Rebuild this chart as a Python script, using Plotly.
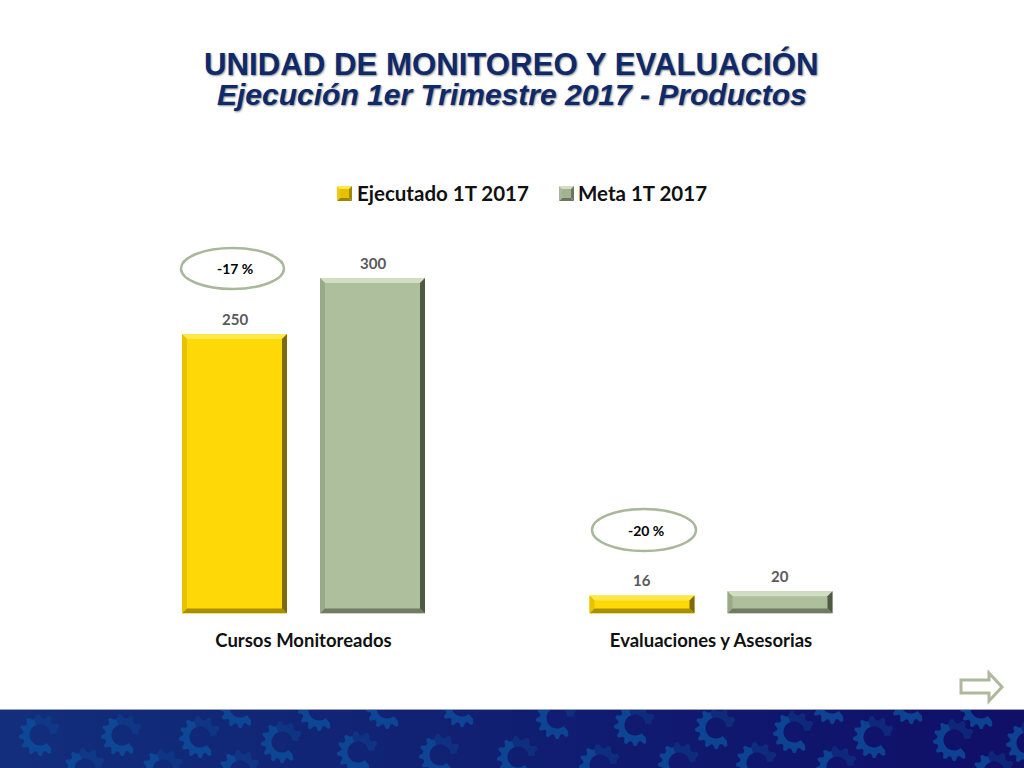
#!/usr/bin/env python

import math

import plotly.graph_objects as go

# Datos del grafico
categorias = ["Cursos Monitoreados", "Evaluaciones y Asesorias"]
ejecutado = [250, 16]
meta = [300, 20]
variacion = ["-17 %", "-20 %"]
nombres = ["Ejecutado 1T 2017", "Meta 1T 2017"]

W, H = 1024, 768
BARGAP = 0.3227
GROUPGAP = 0.239
Y_MAX = 350
POS = list(range(len(categorias)))

# Centros de los engranajes del pie de pagina (px)
gears = [(40, 735), (122, 735), (200, 737), (282, 742), (240, 707), (85, 769),
         (163, 770), (240, 771), (319, 710), (358, 752), (387, 708), (440, 755),
         (462, 706), (518, 757), (557, 718), (600, 765), (635, 725), (716, 728),
         (794, 732), (874, 737), (954, 740), (1027, 743), (679, 763), (757, 763),
         (837, 767), (832, 703), (911, 703), (981, 708), (994, 772)]


def px(x):
    return x / W


def py(y):
    return 1 - y / H


def poly(coords):
    return "M" + "L".join("%.5f,%.5f" % c for c in coords) + "Z"


def gear_path(cx, cy, start, end, ro=21, ri=10.5):
    # piece of a toothed ring, angles in degrees, clockwise on screen
    start, end = math.radians(start), math.radians(end)
    n = max(4, int(round((end - start) / (2 * math.pi) * 48 / 4)) * 4)
    pts = []
    for k in range(n + 1):
        a = start + (end - start) * k / n
        r = ro if k % 4 in (1, 2) else ro - 4
        pts.append((cx + r * math.cos(a), cy + r * math.sin(a)))
    for k in range(n + 1):
        a = end - (end - start) * k / n
        pts.append((cx + ri * math.cos(a), cy + ri * math.sin(a)))
    # keep it inside the band
    return poly([(px(x), py(max(y, 710))) for x, y in pts])


def bevel(x0, x1, val, colors):
    # four slanted edges on top of a bar, in data units
    dx = 5 / (815 / 2)
    dy = min(5 / (391.3 / Y_MAX), val / 3)
    top, left, right, bottom = colors
    edges = [
        ([(x0, val), (x1, val), (x1 - dx, val - dy), (x0 + dx, val - dy)], top),
        ([(x0, 0), (x0, val), (x0 + dx, val - dy), (x0 + dx, dy)], left),
        ([(x1, 0), (x1, val), (x1 - dx, val - dy), (x1 - dx, dy)], right),
        ([(x0, 0), (x1, 0), (x1 - dx, dy), (x0 + dx, dy)], bottom),
    ]
    return [dict(type="path", xref="x", yref="y", path=poly(c), fillcolor=col,
                 line_width=0, layer="above") for c, col in edges]


def swatch(x0, y0, size, centre, colors):
    # little bevelled legend square, in pixels
    top, left, right, bottom = colors
    x1, y1 = x0 + size, y0 + size
    cx, cy = x0 + size / 2, y0 + size / 2
    tris = [
        ([(x0, y0), (x1, y0), (cx, cy)], top),
        ([(x0, y0), (x0, y1), (cx, cy)], left),
        ([(x1, y0), (x1, y1), (cx, cy)], right),
        ([(x0, y1), (x1, y1), (cx, cy)], bottom),
    ]
    out = [dict(type="path", xref="paper", yref="paper", line_width=0,
                fillcolor=col, path=poly([(px(a), py(b)) for a, b in c]))
           for c, col in tris]
    out.append(dict(type="rect", xref="paper", yref="paper", line_width=0,
                    x0=px(x0 + 3), x1=px(x1 - 3), y0=py(y0 + 3), y1=py(y1 - 3),
                    fillcolor=centre))
    return out


fig = go.Figure()

fig.add_trace(go.Bar(x=POS, y=ejecutado, name=nombres[0],
                     marker=dict(color="#ffd808", line_width=0)))
fig.add_trace(go.Bar(x=POS, y=meta, name=nombres[1],
                     marker=dict(color="#adbf9c", line_width=0)))

shapes = []
annotations = []

# Bisel de las barras y etiquetas de valor
slot = (1 - BARGAP) / 2
ancho = slot * (1 - GROUPGAP)
yellow_edges = ("#ffe94a", "#e6c200", "#7d6a0c", "#a88f00")
green_edges = ("#d2dec4", "#98aa88", "#4f5a45", "#6f7c63")
for i in POS:
    c0, c1 = i - slot / 2, i + slot / 2
    shapes += bevel(c0 - ancho / 2, c0 + ancho / 2, ejecutado[i], yellow_edges)
    shapes += bevel(c1 - ancho / 2, c1 + ancho / 2, meta[i], green_edges)
    for cx, val in [(c0, ejecutado[i]), (c1, meta[i])]:
        annotations.append(dict(xref="x", yref="y", x=cx, y=val, yshift=15.5,
                                text=str(val), showarrow=False,
                                xanchor="center", yanchor="middle",
                                font=dict(family="Lato", size=15,
                                          color="#595959", weight="bold")))

# Leyenda hecha a mano
shapes += swatch(337, 186, 15, "#e8c000", ("#ffe94a", "#f0cc10", "#a08800", "#9c8400"))
shapes += swatch(559, 186, 15, "#a3b292", ("#d2dec4", "#a9b79a", "#6a7660", "#69755e"))

# Banda inferior
steps = 32
for s in range(steps):
    t = s / (steps - 1)
    col = "rgb(%d,%d,%d)" % (18 - 2 * t, 46 - 30 * t, 125 - 20 * t)
    shapes.append(dict(type="rect", xref="paper", yref="paper", layer="below",
                       x0=s / steps, x1=(s + 1) / steps + 0.001,
                       y0=0, y1=py(710), fillcolor=col, line_width=0))
for gx, gy in gears:
    # bright on the lower left, fading towards the upper right
    for a0, a1, op in [(50, 250, 0.8), (250, 355, 0.35)]:
        shapes.append(dict(type="path", xref="paper", yref="paper", layer="below",
                           path=gear_path(gx, gy, a0, a1), fillcolor="#0c4f9c",
                           opacity=op, line_width=0))
shapes.append(dict(type="line", xref="paper", yref="paper", layer="below",
                   x0=0, x1=1, y0=py(709.5), y1=py(709.5),
                   line=dict(color="#9aa0b4", width=1)))

# Ovalos de variacion
ovalos = [(181, 248, 284, 289), (592, 509, 696, 551)]
for x0, y0, x1, y1 in ovalos:
    shapes.append(dict(type="circle", xref="paper", yref="paper",
                       x0=px(x0), x1=px(x1), y0=py(y0), y1=py(y1),
                       fillcolor="white", line=dict(color="#a9b89a", width=2.5)))

# Flecha
flecha = [(961, 680), (989, 680), (989, 673), (1002, 687), (989, 701),
          (989, 693), (961, 693)]
shapes.append(dict(type="path", xref="paper", yref="paper",
                   path=poly([(px(x), py(y)) for x, y in flecha]),
                   fillcolor="white", line=dict(color="#adb89c", width=3)))

titulo_font = dict(family="Liberation Sans", color="#0f2a6b", weight="bold",
                   shadow="1px 1px 2px #8a8a8a")
annotations.append(dict(xref="paper", yref="paper", x=px(511.5), y=py(64),
                        xanchor="center", yanchor="middle",
                        text="UNIDAD DE MONITOREO Y EVALUACIÓN",
                        showarrow=False, font=dict(titulo_font, size=31.2)))
annotations.append(dict(xref="paper", yref="paper", x=px(512), y=py(95),
                        xanchor="center", yanchor="middle",
                        text="Ejecución 1er Trimestre 2017 - Productos",
                        showarrow=False,
                        font=dict(titulo_font, size=30, style="italic")))
for (x0, y0, x1, y1), txt in zip(ovalos, variacion):
    annotations.append(dict(xref="paper", yref="paper", x=px((x0 + x1) / 2 + 2),
                            y=py((y0 + y1) / 2), text=txt, showarrow=False,
                            xanchor="center", yanchor="middle",
                            font=dict(family="Lato", size=14, color="black",
                                      weight="bold")))
for lx, txt in zip([356, 577], nombres):
    annotations.append(dict(xref="paper", yref="paper", x=px(lx), y=py(193),
                            xanchor="left", yanchor="middle", xshift=-1,
                            text=txt, showarrow=False,
                            font=dict(family="Lato", size=20.5, color="#111111",
                                      weight="bold")))

fig.update_layout(
    width=W, height=H, autosize=False,
    margin=dict(l=0, r=0, t=0, b=0),
    paper_bgcolor="white", plot_bgcolor="white",
    barmode="group", bargap=BARGAP, bargroupgap=GROUPGAP,
    shapes=shapes, annotations=annotations,
    showlegend=False,
    xaxis=dict(domain=[px(99.75), px(914.75)], range=[-0.5, 1.5],
               tickvals=POS, ticktext=categorias, showgrid=False,
               zeroline=False, showline=False, ticks="outside", ticklen=10,
               tickcolor="rgba(0,0,0,0)",
               tickfont=dict(family="Lato", size=18.5, color="#111111",
                             weight="bold")),
    yaxis=dict(domain=[py(613.5), py(222.2)], range=[0, Y_MAX], visible=False),
)

fig.write_html("out.html", config=dict(displayModeBar=False),
               post_script="document.body.style.margin='0';")
